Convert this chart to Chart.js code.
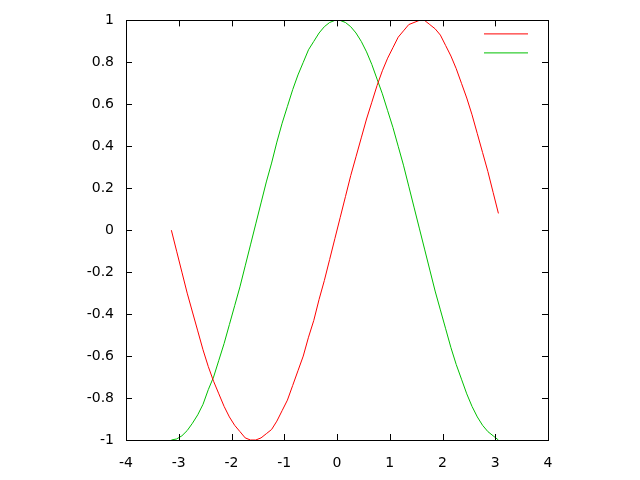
<!DOCTYPE html>
<html>
<head>
<meta charset="utf-8">
<script src="https://cdn.jsdelivr.net/npm/chart.js@4/dist/chart.umd.min.js"></script>
<style>
  body { margin: 0; background: #fff; }
  #wrap { width: 640px; height: 480px; }
</style>
</head>
<body>
<div id="wrap"><canvas id="grafico" width="640" height="480"></canvas></div>
<script>
// valores x (paso 0.1 desde -3.14)
const xs = [-3.14,-3.04,-2.94,-2.84,-2.74,-2.64,-2.54,-2.44,-2.34,-2.24,-2.14,-2.04,-1.94,-1.84,-1.74,-1.64,
  -1.54,-1.44,-1.34,-1.24,-1.14,-1.04,-0.94,-0.84,-0.74,-0.64,-0.54,-0.44,-0.34,-0.24,-0.14,-0.04,
  0.06,0.16,0.26,0.36,0.46,0.56,0.66,0.76,0.86,0.96,1.06,1.16,1.26,1.36,1.46,1.56,
  1.66,1.76,1.86,1.96,2.06,2.16,2.26,2.36,2.46,2.56,2.66,2.76,2.86,2.96,3.06];

// serie roja
const serieRoja = [0.00,-0.10,-0.20,-0.30,-0.39,-0.48,-0.57,-0.65,-0.72,-0.78,-0.84,-0.89,-0.93,-0.96,-0.99,-1.00,
  -1.00,-0.99,-0.97,-0.95,-0.91,-0.86,-0.81,-0.74,-0.67,-0.60,-0.51,-0.43,-0.33,-0.24,-0.14,-0.04,
  0.06,0.16,0.26,0.35,0.44,0.53,0.61,0.69,0.76,0.82,0.87,0.92,0.95,0.98,0.99,1.00,
  1.00,0.98,0.96,0.93,0.88,0.83,0.77,0.70,0.63,0.55,0.46,0.37,0.28,0.18,0.08];

// serie verde
const serieVerde = [-1.00,-0.995,-0.98,-0.955,-0.92,-0.88,-0.83,-0.76,-0.70,-0.62,-0.54,-0.45,-0.36,-0.27,-0.17,-0.07,
  0.03,0.13,0.23,0.32,0.42,0.51,0.59,0.67,0.74,0.80,0.86,0.90,0.94,0.97,0.99,1.00,
  1.00,0.99,0.97,0.94,0.90,0.85,0.79,0.72,0.65,0.57,0.49,0.40,0.31,0.21,0.11,0.01,
  -0.09,-0.19,-0.29,-0.38,-0.47,-0.56,-0.64,-0.71,-0.78,-0.84,-0.89,-0.93,-0.96,-0.98,-1.00];

const ticksX = [-4,-3,-2,-1,0,1,2,3,4];
const ticksY = [-1,-0.8,-0.6,-0.4,-0.2,0,0.2,0.4,0.6,0.8,1];

const ROJO = '#ff0000';
const VERDE = '#00c000';

// marco, marcas hacia dentro y leyenda sin texto
const marcoPlugin = {
  id: 'marco',
  afterDraw(chart) {
    const ctx = chart.ctx;
    const a = chart.chartArea;
    const sx = chart.scales.x, sy = chart.scales.y;
    ctx.save();
    ctx.strokeStyle = '#000';
    ctx.lineWidth = 1;
    ctx.strokeRect(Math.round(a.left) + 0.5, Math.round(a.top) + 0.5,
      Math.round(a.right - a.left), Math.round(a.bottom - a.top));
    ctx.beginPath();
    ticksX.forEach(v => {
      const p = Math.round(sx.getPixelForValue(v)) + 0.5;
      ctx.moveTo(p, a.bottom); ctx.lineTo(p, a.bottom - 6);
      ctx.moveTo(p, a.top); ctx.lineTo(p, a.top + 6);
    });
    ticksY.forEach(v => {
      const p = Math.round(sy.getPixelForValue(v)) + 0.5;
      ctx.moveTo(a.left, p); ctx.lineTo(a.left + 6, p);
      ctx.moveTo(a.right, p); ctx.lineTo(a.right - 6, p);
    });
    ctx.stroke();
    // leyenda
    [ROJO, VERDE].forEach((c, i) => {
      const y = a.top + 13.5 + i * 19;
      ctx.strokeStyle = c;
      ctx.beginPath();
      ctx.moveTo(a.right - 64, y); ctx.lineTo(a.right - 20, y);
      ctx.stroke();
    });
    ctx.restore();
  }
};

const fuente = { family: 'DejaVu Sans', size: 14 };
const formato = v => String(Math.round(v * 10) / 10);

const ctxGrafico = document.getElementById('grafico').getContext('2d');
new Chart(ctxGrafico, {
  type: 'line',
  data: {
    datasets: [
      {
        data: xs.map((x, i) => ({ x: x, y: serieRoja[i] })),
        borderColor: ROJO,
        borderWidth: 1,
        pointRadius: 0,
        tension: 0,
        fill: false
      },
      {
        data: xs.map((x, i) => ({ x: x, y: serieVerde[i] })),
        borderColor: VERDE,
        borderWidth: 1,
        pointRadius: 0,
        tension: 0,
        fill: false
      }
    ]
  },
  options: {
    responsive: false,
    animation: false,
    layout: { padding: { top: 20, right: 92, left: 0, bottom: 0 } },
    plugins: { legend: { display: false }, tooltip: { enabled: false } },
    scales: {
      x: {
        type: 'linear',
        min: -4, max: 4,
        afterBuildTicks: s => { s.ticks = ticksX.map(v => ({ value: v })); },
        afterFit: s => { s.height = 40; },
        grid: { display: false, drawTicks: false },
        border: { display: false },
        ticks: { color: '#000', padding: 15, font: fuente, callback: formato }
      },
      y: {
        type: 'linear',
        min: -1, max: 1,
        afterBuildTicks: s => { s.ticks = ticksY.map(v => ({ value: v })); },
        afterFit: s => { s.width = 126; },
        grid: { display: false, drawTicks: false },
        border: { display: false },
        ticks: { color: '#000', padding: 12, font: fuente, callback: formato }
      }
    }
  },
  plugins: [marcoPlugin]
});
</script>
</body>
</html>
